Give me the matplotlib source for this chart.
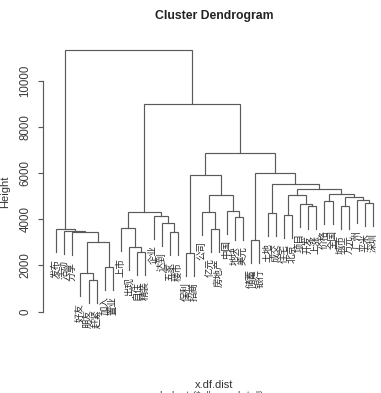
import numpy as np
import matplotlib
matplotlib.use("Agg")
import matplotlib.pyplot as plt

plt.rcParams['font.family'] = ['Liberation Sans', 'Noto Sans CJK SC', 'DejaVu Sans']

# leaf labels in plotting order
leaf_labels = ["发布", "活动", "分享", "好友", "朋友", "赶紧", "加入", "置业",
               "上市", "出现", "自住", "精装", "企业", "达到", "五家", "楼市",
               "保利", "招商", "公司", "亿元", "房地产", "中国", "地块", "美元",
               "储蓄", "银行", "土地", "成交", "住宅", "北京", "项目", "开发",
               "上涨", "价格", "全国", "城市", "万元", "广州", "平米", "深圳"]

# merges, R hclust style: negative = leaf (1-based), positive = earlier merge
merge_left = [-5, -4, -7, -17, -11, -10, 2, -25, -3, -15, -2, -1, -20, -9,
              -14, -23, -13, -29, -27, 14, -19, -22, -32, -36, -31, -39, -34,
              -38, 24, 21, 18, 27, 31, 19, 4, 8, 35, 20, 12]
merge_right = [-6, 1, -8, -18, -12, 5, 3, -26, 7, -16, 9, 11, -21, 6,
               10, -24, 15, -30, -28, 17, 13, 16, -33, -37, 23, -40, -35,
               26, 28, 22, 25, 29, 32, 33, 30, 34, 36, 37, 38]
merge_height = [1366, 1655, 1943, 2550, 2593, 2784, 3000, 3100, 3430, 3434,
                3500, 3565, 3590, 3608, 3851, 4110, 4141, 4200, 4250, 4300,
                4330, 4370, 4575, 4590, 4660, 4690, 4800, 4820, 4980, 5050,
                5040, 5080, 5300, 5510, 5920, 6000, 6860, 9000, 11340]

y_ticks = [0, 2000, 4000, 6000, 8000, 10000]

W, H = 381, 393
fig = plt.figure(figsize=(W / 100, H / 100), dpi=100)

n = len(leaf_labels)
span = 0.04 * (n - 1)
x_lo, x_hi = 1 - span, n + span
y_lo, y_hi = -1000, 12000

# place the plot region in pixels (right side runs past the figure edge)
px_left, px_right = 43.3, 386.0
px_zero, px_per_unit = 311.5, 0.02306
px_bot = px_zero - y_lo * px_per_unit
px_top = px_zero - y_hi * px_per_unit
ax = fig.add_axes([px_left / W, 1 - px_bot / H,
                   (px_right - px_left) / W, (px_bot - px_top) / H])
ax.set_xlim(x_lo, x_hi)
ax.set_ylim(y_lo, y_hi)

hang = 0.1 * (max(merge_height) - min(merge_height))
line_col = "#5a5a5a"
label_gap = 280  # in height units, between leaf end and label

node_x = {}
for k in range(len(merge_height)):
    h = merge_height[k]
    xs, ys = [], []
    for c in (merge_left[k], merge_right[k]):
        if c < 0:
            cx = -c
            cy = h - hang
            ax.text(cx, cy - label_gap, leaf_labels[cx - 1], rotation=90,
                    ha="center", va="top", fontsize=6.8, color="#2a2a2a",
                    family=["Noto Sans CJK SC", "DejaVu Sans"])
        else:
            cx = node_x[c]
            cy = merge_height[c - 1]
        xs.append(cx)
        ys.append(cy)
    node_x[k + 1] = (xs[0] + xs[1]) / 2
    ax.plot([xs[0], xs[0], xs[1], xs[1]], [ys[0], h, h, ys[1]],
            color=line_col, lw=0.85, solid_joinstyle="miter")

for s in ["top", "right", "bottom"]:
    ax.spines[s].set_visible(False)
ax.spines["left"].set_bounds(0, 10000)
ax.spines["left"].set_color(line_col)
ax.spines["left"].set_linewidth(0.85)
ax.set_xticks([])
ax.set_yticks(y_ticks)
ax.set_yticklabels([str(v) for v in y_ticks], rotation=90, va="center",
                   fontsize=8.3, color="#3a3a3a")
ax.tick_params(axis="y", direction="out", length=3.6, width=0.85,
               color=line_col, pad=5)
ax.patch.set_alpha(0)

fig.text(214.7 / W, 1 - 15.5 / H, "Cluster Dendrogram", ha="center",
         va="center", fontsize=8.8, fontweight="bold", color="#222222")
fig.text(213.8 / W, 1 - 385 / H, "x.df.dist", ha="center", va="center",
         fontsize=8, color="#333333")
# sub-title sits at the bottom edge, mostly cropped as in the reference
fig.text(212 / W, 1 - 391 / H, 'hclust (*, "complete")', ha="center",
         va="top", fontsize=8, color="#555555")
fig.text(5 / W, 1 - 192 / H, "Height", ha="center", va="center",
         rotation=90, fontsize=8, color="#333333")

fig.savefig("out.png", dpi=100)
